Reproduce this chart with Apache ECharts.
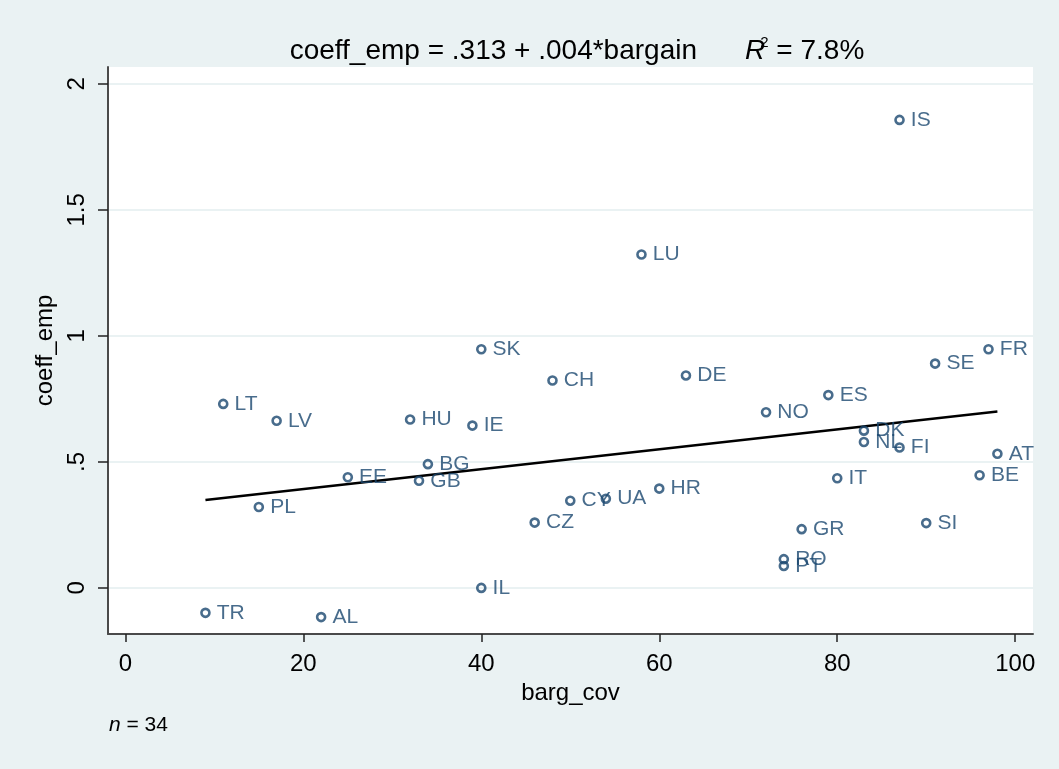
<!DOCTYPE html>
<html>
<head>
<meta charset="utf-8">
<script src="https://cdn.jsdelivr.net/npm/echarts@6/dist/echarts.min.js"></script>
<style>
html,body{margin:0;padding:0;background:#EAF2F3;}
#chart{width:1059px;height:769px;}
</style>
</head>
<body>
<div id="chart"></div>
<script>
// ---- data ----
var countries = ['IS','LU','SK','FR','SE','DE','CH','ES','LT','NO','HU','LV','IE','DK','NL','FI','AT','BG','BE','EE','IT','GB','HR','UA','CY','PL','CZ','SI','GR','RO','PT','IL','TR','AL'];
var bargCov   = [87, 58, 40, 97, 91, 63, 48, 79, 11, 72, 32, 17, 39, 83, 83, 87, 98, 34, 96, 25, 80, 33, 60, 54, 50, 15, 46, 90, 76, 74, 74, 40, 9, 22];
var coeffEmp  = [1.857, 1.323, 0.947, 0.947, 0.890, 0.843, 0.823, 0.765, 0.730, 0.697, 0.668, 0.663, 0.644, 0.624, 0.579, 0.557, 0.532, 0.491, 0.447, 0.439, 0.435, 0.425, 0.394, 0.354, 0.346, 0.321, 0.259, 0.257, 0.233, 0.114, 0.087, 0.000, -0.099, -0.116];
var fitX = [9, 98];
var fitY = [0.349, 0.700];
var xTicks = [0, 20, 40, 60, 80, 100];
var xTickLabels = ['0', '20', '40', '60', '80', '100'];
var yTicks = [0, 0.5, 1, 1.5, 2];
var yTickLabels = ['0', '.5', '1', '1.5', '2'];

var FONT = 'Liberation Sans, Arial, Helvetica, sans-serif';
var NAVY = '#1A476F';
var BG = '#EAF2F3';

var chart = echarts.init(document.getElementById('chart'), null, {renderer: 'canvas'});

var scatterData = countries.map(function (c, i) {
  return {name: c, value: [bargCov[i], coeffEmp[i]]};
});
var fitData = fitX.map(function (x, i) { return [x, fitY[i]]; });

var option = {
  backgroundColor: BG,
  animation: false,
  title: {
    text: '{a|coeff_emp = .313 + .004*bargain}{gap|}{r|R}{sup|2}{a| = 7.8%}',
    left: 572,
    top: 30,
    textAlign: 'center',
    textStyle: {
      fontWeight: 'normal',
      rich: {
        a: {fontFamily: FONT, fontSize: 28, fontWeight: 'normal', color: '#000'},
        gap: {width: 48},
        r: {fontFamily: FONT, fontSize: 28, fontStyle: 'italic', fontWeight: 'normal', color: '#000'},
        sup: {fontFamily: FONT, fontSize: 15, fontWeight: 'normal', color: '#000', verticalAlign: 'top', padding: [0, 0, 18, -5]}
      }
    }
  },
  grid: {
    left: 108, top: 67, right: 26, bottom: 135,
    show: true, backgroundColor: '#FFFFFF', borderWidth: 0
  },
  xAxis: {
    type: 'value',
    min: -1.95, max: 102,
    name: 'barg_cov',
    nameLocation: 'middle',
    nameGap: 44,
    nameTextStyle: {fontFamily: FONT, fontSize: 24, color: '#000'},
    axisLine: {show: true, onZero: false, lineStyle: {color: '#4a4a4a', width: 2}},
    axisTick: {show: true, inside: false, length: 8, customValues: xTicks, lineStyle: {color: '#222', width: 1.5}},
    axisLabel: {
      customValues: xTicks, margin: 18,
      fontFamily: FONT, fontSize: 24, color: '#000',
      formatter: function (v) { var k = xTicks.indexOf(v); return k >= 0 ? xTickLabels[k] : ''; }
    },
    splitLine: {show: false}
  },
  yAxis: {
    type: 'value',
    min: -0.183, max: 2.067,
    name: 'coeff_emp',
    nameLocation: 'middle',
    nameRotate: 90,
    nameGap: 42,
    nameTextStyle: {fontFamily: FONT, fontSize: 24, color: '#000'},
    axisLine: {show: true, onZero: false, lineStyle: {color: '#4a4a4a', width: 2}},
    axisTick: {show: true, inside: false, length: 10, customValues: yTicks, lineStyle: {color: '#222', width: 1.5}},
    axisLabel: {
      customValues: yTicks, margin: 19, rotate: 90,
      fontFamily: FONT, fontSize: 24, color: '#000',
      formatter: function (v) {
        for (var k = 0; k < yTicks.length; k++) { if (Math.abs(yTicks[k] - v) < 1e-9) return yTickLabels[k]; }
        return '';
      }
    },
    splitLine: {show: false}
  },
  series: [
    {
      type: 'line',
      data: [],
      silent: true,
      z: 0,
      markLine: {
        silent: true,
        z: 0,
        symbol: ['none', 'none'],
        label: {show: false},
        lineStyle: {color: BG, width: 2, type: 'solid'},
        data: yTicks.map(function (v) { return {yAxis: v}; })
      }
    },
    {
      type: 'line',
      data: fitData,
      showSymbol: false,
      symbol: 'none',
      z: 3,
      lineStyle: {color: '#000', width: 2.5}
    },
    {
      type: 'scatter',
      data: scatterData,
      symbol: 'circle',
      symbolSize: 8,
      z: 4,
      itemStyle: {color: 'rgba(255,255,255,0)', borderColor: NAVY, borderWidth: 2.6},
      label: {
        show: true, position: 'right', distance: 6,
        formatter: '{b}',
        fontFamily: FONT, fontSize: 21, color: NAVY
      },
      emphasis: {disabled: true}
    }
  ],
  graphic: [
    {
      type: 'text',
      left: 109,
      top: 715,
      style: {
        text: '{i|n} = 34',
        font: '21px ' + FONT,
        fill: '#000',
        rich: {
          i: {fontFamily: FONT, fontSize: 21, fontStyle: 'italic', fill: '#000'}
        }
      }
    }
  ]
};
chart.setOption(option);
</script>
</body>
</html>
